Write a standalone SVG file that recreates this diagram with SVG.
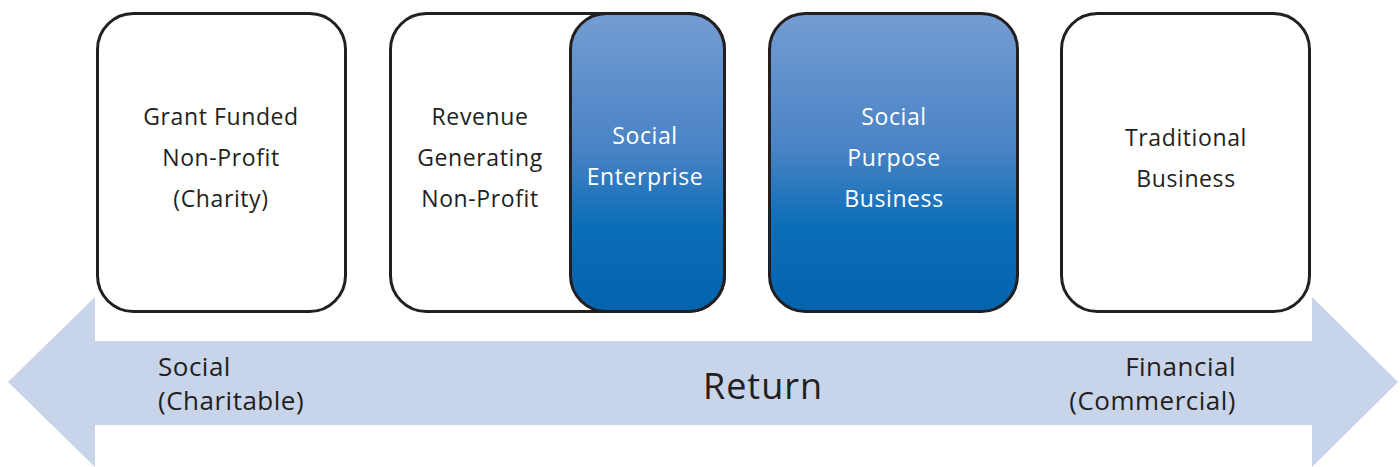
<svg xmlns="http://www.w3.org/2000/svg" width="1400" height="467" viewBox="0 0 1400 467">
<defs>
<linearGradient id="blue" x1="0" y1="0" x2="0" y2="1">
<stop offset="0" stop-color="#749dd2"/>
<stop offset="0.45" stop-color="#4a83c5"/>
<stop offset="0.72" stop-color="#0a6db7"/>
<stop offset="1" stop-color="#0663ae"/>
</linearGradient>
<style>
.box{fill:#fff;stroke:#231f20;stroke-width:3}
.bbox{fill:url(#blue);stroke:#231f20;stroke-width:3}
.t{font-family:"Open Sans","DejaVu Sans",sans-serif;font-size:23px;font-weight:500;letter-spacing:0.6px;fill:#231f20;text-anchor:middle}
.w{fill:#fff}
.b{font-family:"Open Sans","DejaVu Sans",sans-serif;font-size:26px;font-weight:500;letter-spacing:0.5px;fill:#231f20}
.r{font-size:36px;letter-spacing:1px;text-anchor:middle}
.e{text-anchor:end}
</style>
</defs>
<g id="arrow">
<polygon points="8,382 95,297 95,341 1312,341 1312,297 1398,382 1312,467 1312,425 95,425 95,467" fill="#c7d4ea"/>
<text class="b" x="158" y="376">Social</text>
<text class="b" x="158" y="410">(Charitable)</text>
<text class="b r" x="763" y="399">Return</text>
<text class="b e" x="1236" y="376">Financial</text>
<text class="b e" x="1236" y="410">(Commercial)</text>
</g>
<g id="grant">
<rect class="box" x="97.5" y="13.5" width="248" height="298" rx="36"/>
<text class="t" x="221" y="125">Grant Funded</text>
<text class="t" x="221" y="166">Non-Profit</text>
<text class="t" x="221" y="207">(Charity)</text>
</g>
<g id="revenue">
<rect class="box" x="390.5" y="13.5" width="334" height="298" rx="36"/>
<text class="t" x="480" y="125">Revenue</text>
<text class="t" x="480" y="166">Generating</text>
<text class="t" x="480" y="207">Non-Profit</text>
</g>
<g id="social-enterprise">
<rect class="bbox" x="570.5" y="13.5" width="154" height="298" rx="36"/>
<text class="t w" x="645" y="144">Social</text>
<text class="t w" x="645" y="185">Enterprise</text>
</g>
<g id="social-purpose">
<rect class="bbox" x="769.5" y="13.5" width="248" height="298" rx="36"/>
<text class="t w" x="894" y="125">Social</text>
<text class="t w" x="894" y="166">Purpose</text>
<text class="t w" x="894" y="207">Business</text>
</g>
<g id="traditional">
<rect class="box" x="1061.5" y="13.5" width="248" height="298" rx="36"/>
<text class="t" x="1186" y="146">Traditional</text>
<text class="t" x="1186" y="187">Business</text>
</g>
<g id="connectors"></g>
</svg>
